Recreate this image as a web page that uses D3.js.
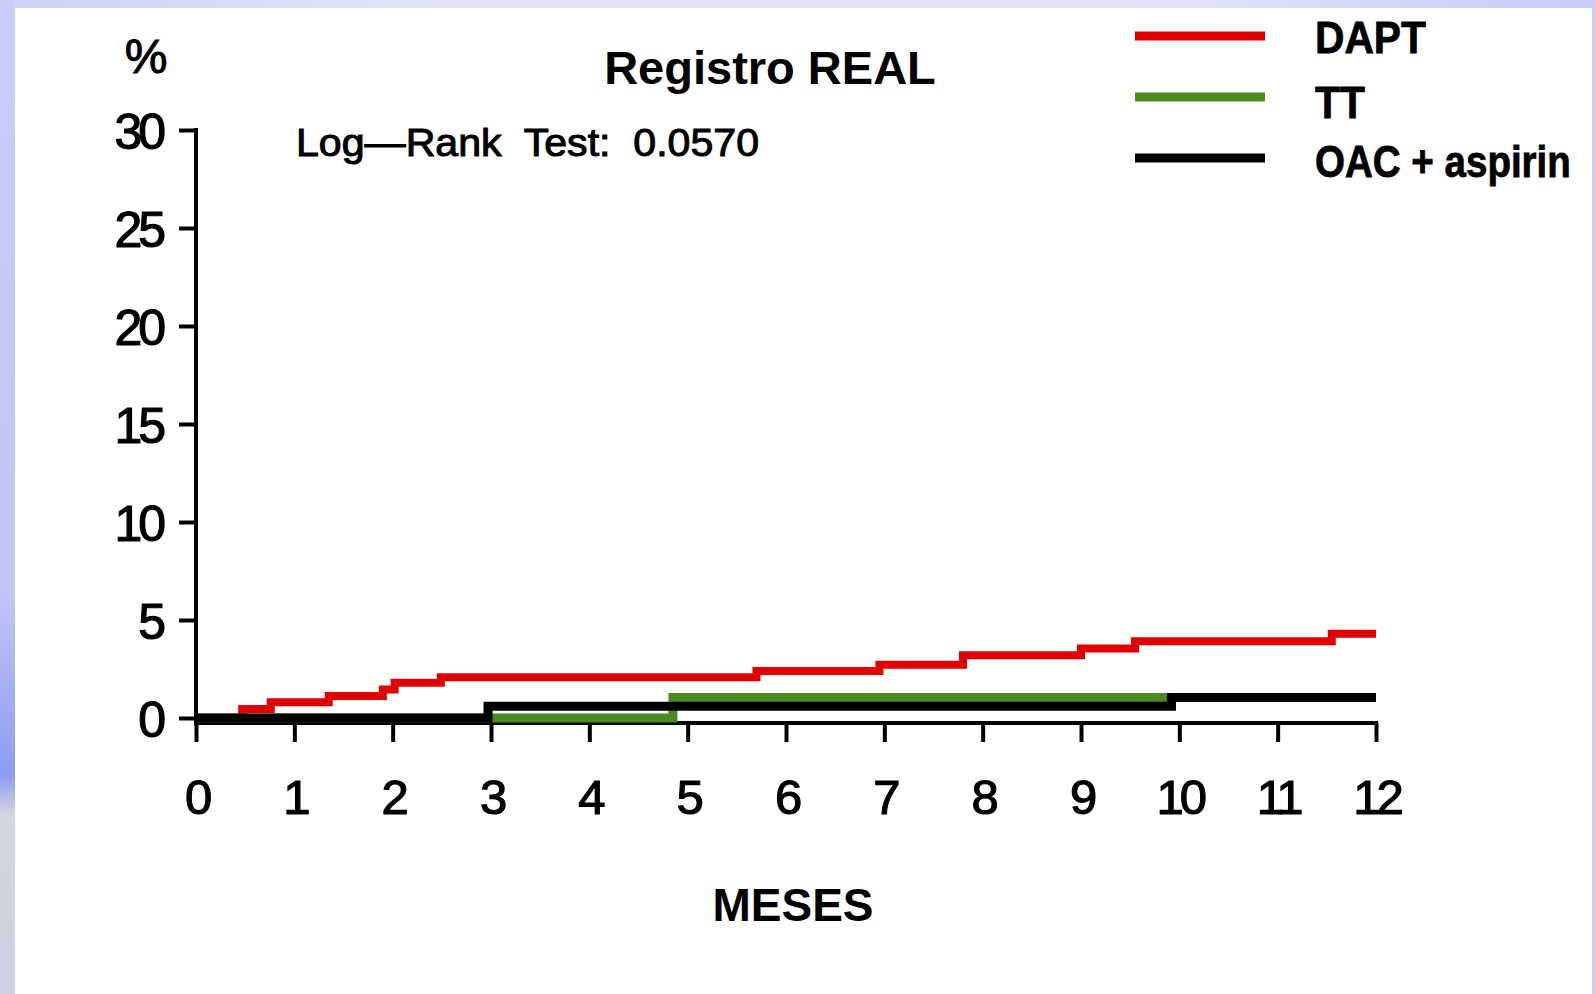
<!DOCTYPE html>
<html>
<head>
<meta charset="utf-8">
<script src="https://cdn.jsdelivr.net/npm/d3@7/dist/d3.min.js"></script>
<style>
  html, body { margin: 0; padding: 0; background: #ffffff; }
  svg { display: block; }
</style>
</head>
<body>
<script>
// ---------- data ----------
const title = "Registro REAL";
const xLabel = "MESES";
const yLabel = "%";
const statText = "Log\u2014Rank  Test:  0.0570";
const xTicks = [0, 1, 2, 3, 4, 5, 6, 7, 8, 9, 10, 11, 12];
const yTicks = [0, 5, 10, 15, 20, 25, 30];
const seriesNames = ["DAPT", "TT", "OAC + aspirin"];
const seriesColors = ["#e00000", "#4a8a1f", "#000000"];

// step curves: time (months), cumulative incidence (%)
const daptTime  = [0, 0.47, 0.76, 1.35, 1.9, 2.02, 2.49, 5.7, 6.95, 7.8, 9.0, 9.55, 11.55, 12];
const daptValue = [0, 0.46, 0.8, 1.12, 1.45, 1.8, 2.08, 2.4, 2.72, 3.2, 3.55, 3.92, 4.3, 4.3];
const ttTime    = [0, 3.0, 4.85, 12];
const ttValue   = [0, 0, 1.05, 1.05];
const oacTime   = [0, 2.97, 9.92, 12];
const oacValue  = [0, 0.6, 1.05, 1.05];

// ---------- layout ----------
const W = 1595, H = 994;
const svg = d3.select("body").append("svg").attr("width", W).attr("height", H);

const defs = svg.append("defs");
const gTop = defs.append("linearGradient").attr("id", "bgTop").attr("x1", "0").attr("x2", "1").attr("y1", "0").attr("y2", "0");
gTop.append("stop").attr("offset", "0").attr("stop-color", "#cdd2f6");
gTop.append("stop").attr("offset", "0.3").attr("stop-color", "#e3e6f8");
gTop.append("stop").attr("offset", "0.75").attr("stop-color", "#dfe2f8");
gTop.append("stop").attr("offset", "1").attr("stop-color", "#c6ccf8");
const gLeft = defs.append("linearGradient").attr("id", "bgLeft").attr("x1", "0").attr("x2", "0").attr("y1", "0").attr("y2", "1");
gLeft.append("stop").attr("offset", "0").attr("stop-color", "#c9cdf7");
gLeft.append("stop").attr("offset", "0.6").attr("stop-color", "#c2c4f4");
gLeft.append("stop").attr("offset", "0.78").attr("stop-color", "#8a9df0");
gLeft.append("stop").attr("offset", "0.82").attr("stop-color", "#d4d6de");
gLeft.append("stop").attr("offset", "1").attr("stop-color", "#cfd0e2");

svg.append("rect").attr("x", 0).attr("y", 0).attr("width", W).attr("height", H).attr("fill", "url(#bgTop)");
svg.append("rect").attr("x", 0).attr("y", 0).attr("width", 15).attr("height", H).attr("fill", "url(#bgLeft)");
svg.append("rect").attr("x", 1592).attr("y", 0).attr("width", 3).attr("height", H).attr("fill", "#c6ccf8");
svg.append("rect").attr("x", 15).attr("y", 8).attr("width", 1577).attr("height", H - 8).attr("fill", "#ffffff");

const x = d3.scaleLinear().domain([0, 12]).range([196, 1376]);
const y = d3.scaleLinear().domain([0, 30]).range([718, 130]);

const axisFont = "'Liberation Sans', Arial, Helvetica, sans-serif";

// ---------- title & labels ----------
svg.append("text").attr("x", 770).attr("y", 84).attr("text-anchor", "middle")
  .attr("font-family", axisFont).attr("font-weight", "bold").attr("font-size", 47)
  .attr("fill", "#000").text(title);

svg.append("text").attr("x", 793).attr("y", 921).attr("text-anchor", "middle")
  .attr("font-family", axisFont).attr("font-weight", "bold").attr("font-size", 46)
  .attr("fill", "#000").text(xLabel);

svg.append("text").attr("x", 146).attr("y", 73).attr("text-anchor", "middle")
  .attr("font-family", axisFont).attr("font-size", 48).attr("fill", "#000")
  .attr("stroke", "#000").attr("stroke-width", 1).text(yLabel);

svg.append("text").attr("x", 296).attr("y", 156)
  .attr("font-family", axisFont).attr("font-size", 38).attr("fill", "#000")
  .attr("stroke", "#000").attr("stroke-width", 1)
  .attr("textLength", 463).attr("lengthAdjust", "spacingAndGlyphs")
  .attr("xml:space", "preserve").style("white-space", "pre").text(statText);

// ---------- axes ----------
const yAxis = d3.axisLeft(y).tickValues(yTicks).tickSize(17).tickPadding(17).tickSizeOuter(0);
const gy = svg.append("g").attr("transform", "translate(196,0)").call(yAxis);
gy.select(".domain").attr("stroke", "#000").attr("stroke-width", 4).attr("d", "M0,128V725");
gy.selectAll(".tick line").attr("stroke", "#000").attr("stroke-width", 4);
gy.selectAll(".tick text")
  .attr("font-family", axisFont).attr("font-size", 50).attr("fill", "#000")
  .attr("stroke", "#000").attr("stroke-width", 1.2)
  .attr("letter-spacing", -4).attr("dy", "0.36em");

const xAxis = d3.axisBottom(x).tickValues(xTicks).tickSize(19).tickPadding(0).tickSizeOuter(0);
const gx = svg.append("g").attr("transform", "translate(0,723)").call(xAxis);
gx.select(".domain").attr("stroke", "#000").attr("stroke-width", 4).attr("d", "M194,0H1378");
gx.selectAll(".tick line").attr("stroke", "#000").attr("stroke-width", 4);
gx.selectAll(".tick text")
  .attr("font-family", axisFont).attr("font-size", 49).attr("fill", "#000")
  .attr("stroke", "#000").attr("stroke-width", 1.2)
  .attr("letter-spacing", -4).attr("y", 91).attr("dy", 0);

// ---------- curves ----------
const line = d3.line().x(d => x(d[0])).y(d => y(d[1])).curve(d3.curveStepAfter);
const series = [
  { name: seriesNames[0], color: seriesColors[0], t: daptTime, v: daptValue, w: 8 },
  { name: seriesNames[1], color: seriesColors[1], t: ttTime, v: ttValue, w: 9 },
  { name: seriesNames[2], color: seriesColors[2], t: oacTime, v: oacValue, w: 9 }
];
series.forEach(s => {
  const pts = s.t.map((t, i) => [t, s.v[i]]);
  svg.append("path").datum(pts).attr("d", line)
    .attr("fill", "none").attr("stroke", s.color).attr("stroke-width", s.w)
    .attr("stroke-linejoin", "miter").attr("stroke-linecap", "butt");
});

// ---------- legend ----------
const legendY = [36, 97, 158];
const legendBase = [53, 118, 177];
const legendLen = [111, 50, 256];
series.forEach((s, i) => {
  svg.append("line").attr("x1", 1135).attr("x2", 1265).attr("y1", legendY[i]).attr("y2", legendY[i])
    .attr("stroke", s.color).attr("stroke-width", 9);
  const g = svg.append("g");
  const t = g.append("text").attr("x", 0).attr("y", 0)
    .attr("font-family", axisFont).attr("font-weight", "bold").attr("font-size", 45)
    .attr("fill", "#000").attr("stroke", "#000").attr("stroke-width", 0.8)
    .text(s.name);
  const natural = t.node().getComputedTextLength();
  const sx = legendLen[i] / natural;
  g.attr("transform", `translate(1315,${legendBase[i]}) scale(${sx},1)`);
});
</script>
</body>
</html>
